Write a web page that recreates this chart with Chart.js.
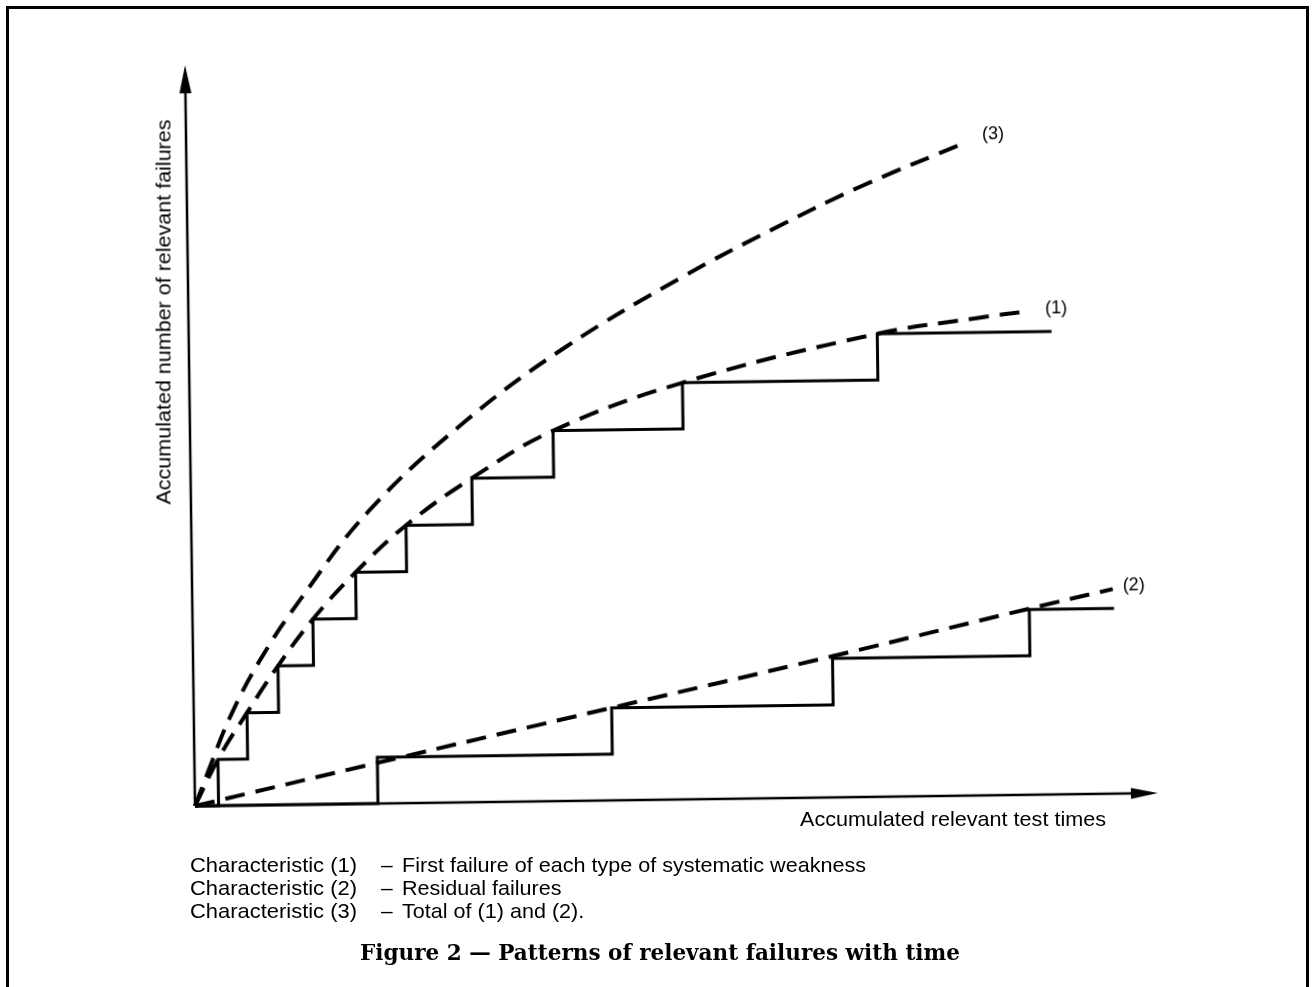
<!DOCTYPE html>
<html>
<head>
<meta charset="utf-8">
<script src="https://cdn.jsdelivr.net/npm/chart.js@4.4.1/dist/chart.umd.min.js"></script>
<style>
    body { margin: 0; background: #fff; width: 1314px; height: 987px; overflow: hidden; position: relative;
           font-family: "Liberation Sans", Arial, sans-serif; color: #000; }
    #frame { position: absolute; left: 6px; top: 6px; width: 1297px; height: 1000px;
             border: 3px solid #000; border-bottom: none; }
    #plot { position: absolute; left: 0; top: 0; width: 1314px; height: 987px;
            transform: rotate(-0.77deg); transform-origin: 195px 806px; }
    .t { position: absolute; white-space: nowrap; font-size: 21px; line-height: 21px; transform-origin: 0 50%; }
    .cap { font-family: "DejaVu Serif", "Liberation Serif", serif; font-weight: bold; font-size: 22px; line-height: 22px; }
</style>
</head>
<body>
<div id="frame"></div>
<div id="plot"><canvas id="failuresChart" width="1314" height="987"></canvas></div>

<div class="t" id="yTitle" style="left:163px;top:312px">Accumulated number of relevant failures</div>
<div class="t" id="xTitle" style="left:800px;top:808px">Accumulated relevant test times</div>

<div class="t leg1" style="left:190px;top:854px">Characteristic (1)</div>
<div class="t leg1" style="left:190px;top:877px">Characteristic (2)</div>
<div class="t leg1" style="left:190px;top:900px">Characteristic (3)</div>
<div class="t" style="left:381px;top:854px">–</div>
<div class="t" style="left:381px;top:877px">–</div>
<div class="t" style="left:381px;top:900px">–</div>
<div class="t leg3" id="leg3a" style="left:402px;top:854px">First failure of each type of systematic weakness</div>
<div class="t leg3" style="left:402px;top:877px">Residual failures</div>
<div class="t leg3" style="left:402px;top:900px">Total of (1) and (2).</div>

<div class="t cap" id="caption" style="left:360px;top:941px">Figure 2 — Patterns of relevant failures with time</div>

<script>
// step curve (1): time of each first failure, and where the record stops
const firstFailureTimes = [2.45, 5.53, 8.81, 12.5, 17.0, 22.3, 29.2, 37.7, 51.2, 71.5];
const firstFailureEnd = 89.6;
// step curve (2): residual failures
const residualTimes = [19.0, 43.4, 66.4, 86.9];
const residualEnd = 95.7;

// dashed trend lines
const trend1Time = [0, 2.45, 5.53, 8.81, 12.5, 17.0, 22.3, 29.2, 37.7, 51.2, 71.5, 81.8, 87.4];
const trend1Count = [0, 1, 2, 3, 4, 5, 6, 7, 8, 9, 10, 10.31, 10.45];
const trend2Time = [0, 19.0, 43.4, 66.4, 86.9, 95.6];
const trend2Count = [0, 0.88, 2.0, 3.05, 4.02, 4.42];
const trend3Time = [0, 1.61, 3.76, 6.95, 11.19, 18.5, 28.78, 39.17, 51.31, 60.62, 69.92, 81.09];
const trend3Count = [0, 0.84, 1.91, 3.13, 4.42, 6.33, 8.26, 9.81, 11.28, 12.27, 13.18, 14.12];

const X_AXIS_END = 100;
const Y_AXIS_END = 16;

// page layout: where the origin sits and how many px one unit takes
const ORIGIN = { x: 195, y: 806 };
const PX_PER_TIME = 9.63;
const PX_PER_FAILURE = 46.3;

function stepPoints(times, end) {
    const pts = [{ x: 0, y: 0 }];
    times.forEach((t, i) => pts.push({ x: t, y: i + 1 }));
    pts.push({ x: end, y: times.length });
    return pts;
}
function pairPoints(xs, ys) {
    return xs.map((x, i) => ({ x: x, y: ys[i] }));
}

const axesPlugin = {
    id: 'axesWithArrows',
    beforeDatasetsDraw(chart) {
        const { ctx, scales: { x, y } } = chart;
        const x0 = x.getPixelForValue(0), y0 = y.getPixelForValue(0);
        const xe = x.getPixelForValue(X_AXIS_END), ye = y.getPixelForValue(Y_AXIS_END);
        ctx.save();
        ctx.strokeStyle = '#000';
        ctx.fillStyle = '#000';
        ctx.lineWidth = 2.5;
        ctx.beginPath();
        ctx.moveTo(x0, y0); ctx.lineTo(xe - 20, y0);
        ctx.moveTo(x0, y0); ctx.lineTo(x0, ye + 20);
        ctx.stroke();
        ctx.beginPath();
        ctx.moveTo(xe, y0); ctx.lineTo(xe - 27, y0 - 5.5); ctx.lineTo(xe - 27, y0 + 5.5); ctx.closePath();
        ctx.moveTo(x0, ye); ctx.lineTo(x0 - 6, ye + 28); ctx.lineTo(x0 + 6, ye + 28); ctx.closePath();
        ctx.fill();
        ctx.restore();
    },
    afterDatasetsDraw(chart) {
        const ctx = chart.ctx;
        ctx.save();
        ctx.fillStyle = '#000';
        ctx.font = '18px "Liberation Sans", Arial, sans-serif';
        ctx.textBaseline = 'middle';
        chart.data.datasets.forEach((ds, i) => {
            if (!ds.tag) return;
            const pts = chart.getDatasetMeta(i).data;
            const last = pts[pts.length - 1];
            ctx.fillText(ds.tag, last.x + ds.tagDx, last.y + ds.tagDy);
        });
        ctx.restore();
    }
};

const dashed = { borderColor: '#000', borderWidth: 4, borderDash: [20, 11], tension: 0.4, pointRadius: 0, fill: false };
const solid = { borderColor: '#000', borderWidth: 3, stepped: 'before', pointRadius: 0, fill: false };

new Chart(document.getElementById('failuresChart'), {
    type: 'line',
    data: {
        datasets: [
            Object.assign({ label: 'Steps (1)', data: stepPoints(firstFailureTimes, firstFailureEnd) }, solid),
            Object.assign({ label: 'Steps (2)', data: stepPoints(residualTimes, residualEnd) }, solid),
            Object.assign({ label: 'Characteristic (1)', data: pairPoints(trend1Time, trend1Count), tag: '(1)', tagDx: 15, tagDy: -2 }, dashed),
            Object.assign({ label: 'Characteristic (2)', data: pairPoints(trend2Time, trend2Count), tag: '(2)', tagDx: 10, tagDy: -3 }, dashed),
            Object.assign({ label: 'Characteristic (3)', data: pairPoints(trend3Time, trend3Count), tag: '(3)', tagDx: 15, tagDy: -7 }, dashed)
        ]
    },
    options: {
        responsive: false,
        animation: false,
        devicePixelRatio: 1,
        layout: { padding: 0 },
        plugins: { legend: { display: false }, tooltip: { enabled: false } },
        scales: {
            x: { type: 'linear', display: false, min: -ORIGIN.x / PX_PER_TIME, max: (1314 - ORIGIN.x) / PX_PER_TIME },
            y: { type: 'linear', display: false, min: -(987 - ORIGIN.y) / PX_PER_FAILURE, max: ORIGIN.y / PX_PER_FAILURE }
        }
    },
    plugins: [axesPlugin]
});

// stretch the texts to the widths they have in the original
function fitTo(el, width) {
    const w = el.getBoundingClientRect().width;
    el.style.transform = 'scaleX(' + (width / w) + ')';
}
const yTitle = document.getElementById('yTitle');
const yw = yTitle.getBoundingClientRect().width;
yTitle.style.transformOrigin = '50% 50%';
yTitle.style.transform = 'translate(-50%, -50%) rotate(-90deg) scaleX(' + (385 / yw) + ')';
fitTo(document.getElementById('xTitle'), 306);
const legScale = 167 / document.querySelector('.leg1').getBoundingClientRect().width;
document.querySelectorAll('.leg1').forEach(el => el.style.transform = 'scaleX(' + legScale + ')');
const leg3Scale = 464 / document.getElementById('leg3a').getBoundingClientRect().width;
document.querySelectorAll('.leg3').forEach(el => el.style.transform = 'scaleX(' + leg3Scale + ')');
fitTo(document.getElementById('caption'), 600);
</script>
</body>
</html>
